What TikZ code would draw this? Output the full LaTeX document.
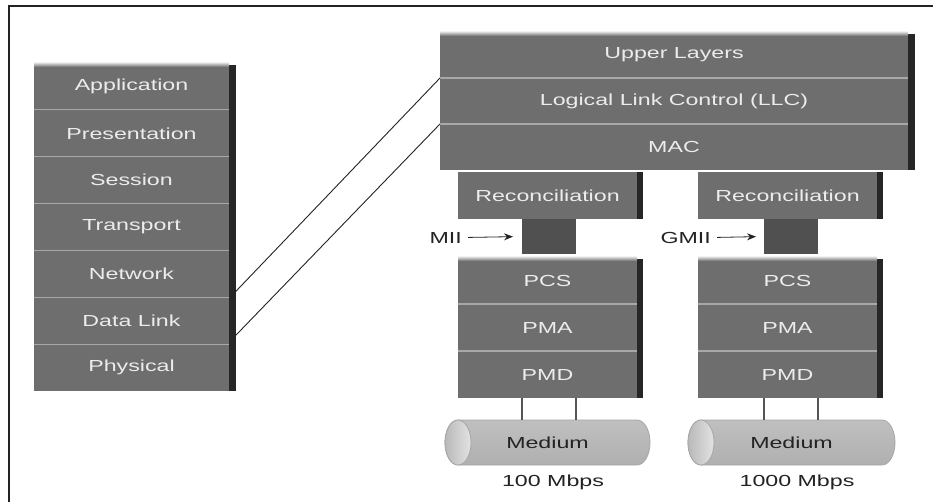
\documentclass[tikz,border=0pt]{standalone}
\usepackage{fontspec}
\setmainfont{Liberation Sans}[FakeStretch=1.45]
\usetikzlibrary{arrows.meta,calc}

\definecolor{boxgray}{RGB}{110,110,110}
\definecolor{sidegray}{RGB}{38,38,38}
\definecolor{sepgray}{RGB}{168,168,168}
\definecolor{labelgray}{RGB}{236,236,236}
\definecolor{linkgray}{RGB}{85,85,85}
\definecolor{ifgray}{RGB}{80,80,80}
\definecolor{inkgray}{RGB}{35,35,35}

\begin{document}
\begin{tikzpicture}[x=1pt,y=-1pt,
  txt/.style={font=\fontsize{16}{18}\selectfont},
  layer/.style={txt,fill=boxgray,text=labelgray,anchor=north west,
    inner sep=0pt,outer sep=0pt},
  osi/.style={layer,minimum width=195pt,minimum height=46.86pt},
  upper/.style={layer,minimum width=468pt,minimum height=46pt},
  sub/.style={layer,minimum width=179pt,minimum height=47pt},
  iface/.style={fill=ifgray,anchor=north west,inner sep=0pt,outer sep=0pt,
    minimum width=54pt,minimum height=35pt},
  sepline/.style={draw=sepgray,line width=1.2pt},
  side/.style={fill=sidegray},
  bevel/.style={top color=gray!30,bottom color=boxgray},
  mapline/.style={draw=inkgray,line width=0.9pt},
  tap/.style={draw=linkgray,line width=1.4pt},
  ifarrow/.style={draw=inkgray,line width=0.8pt,
    -{Stealth[length=9pt,width=7pt]}},
  darktext/.style={txt,text=inkgray,inner sep=2pt},
  medium/.style={txt,text=inkgray,inner sep=0pt,minimum width=205pt,minimum height=45pt},
  cylbody/.style={top color=gray!50,middle color=gray!6,bottom color=gray!62,draw=gray!70,line width=0.8pt},
  cylend/.style={left color=gray!55,right color=gray!22,draw=gray!70,line width=0.8pt}
]
\useasboundingbox (0,0) rectangle (933,502);
\fill[white] (0,0) rectangle (933,502);

% frame
\draw[inkgray,line width=2pt] (9,502) -- (9,6) -- (933,6);

% ---- OSI reference stack ----
\node[osi] (app) at (34,63.00)  {Application};
\node[osi] (pre) at (34,109.86) {Presentation};
\node[osi] (ses) at (34,156.72) {Session};
\node[osi] (tra) at (34,203.58) {Transport};
\node[osi] (net) at (34,250.44) {Network};
\node[osi] (dl)  at (34,297.30) {Data Link};
\node[osi] (phy) at (34,344.16) {Physical};
\fill[side] ($(app.north east)+(0,2)$) rectangle ($(phy.south east)+(7,0)$);
\shade[bevel] (app.north west) rectangle ($(app.north east)+(0,4)$);
\foreach \n in {app,pre,ses,tra,net,dl}
  \draw[sepline] (\n.south west) -- (\n.south east);

% ---- IEEE stack: shared upper part ----
\node[upper] (ul)  at (440,32)  {Upper Layers};
\node[upper] (llc) at (440,78)  {Logical Link Control (LLC)};
\node[upper] (mac) at (440,124) {MAC};
\fill[side] ($(ul.north east)+(0,2)$) rectangle ($(mac.south east)+(7,0)$);
\shade[bevel] (ul.north west) rectangle ($(ul.north east)+(0,4)$);
\foreach \n in {ul,llc}
  \draw[sepline] (\n.south west) -- (\n.south east);

% ---- 100 Mbps branch ----
\node[sub] (rec1) at (458,172) {Reconciliation};
\fill[side] ($(rec1.north east)+(0,0)$) rectangle ($(rec1.south east)+(6,0)$);
\node[iface] (mii) at (522,219) {};
\node[sub] (pcs1) at (458,257) {PCS};
\node[sub] (pma1) at (458,304) {PMA};
\node[sub] (pmd1) at (458,351) {PMD};
\fill[side] ($(pcs1.north east)+(0,2)$) rectangle ($(pmd1.south east)+(6,0)$);
\shade[bevel] (pcs1.north west) rectangle ($(pcs1.north east)+(0,4)$);
\foreach \n in {pcs1,pma1}
  \draw[sepline] (\n.south west) -- (\n.south east);

% ---- 1000 Mbps branch ----
\node[sub] (rec2) at (698,172) {Reconciliation};
\fill[side] ($(rec2.north east)+(0,0)$) rectangle ($(rec2.south east)+(6,0)$);
\node[iface] (gmii) at (764,219) {};
\node[sub] (pcs2) at (698,257) {PCS};
\node[sub] (pma2) at (698,304) {PMA};
\node[sub] (pmd2) at (698,351) {PMD};
\fill[side] ($(pcs2.north east)+(0,2)$) rectangle ($(pmd2.south east)+(6,0)$);
\shade[bevel] (pcs2.north west) rectangle ($(pcs2.north east)+(0,4)$);
\foreach \n in {pcs2,pma2}
  \draw[sepline] (\n.south west) -- (\n.south east);

% interface labels
\node[darktext,anchor=east] (miilab)  at (464,237.5) {MII};
\node[darktext,anchor=east] (gmiilab) at (713,237.5) {GMII};
\draw[ifarrow,shorten <=4pt,shorten >=9pt] (miilab.east) -- (mii.west);
\draw[ifarrow,shorten <=4pt,shorten >=8pt] (gmiilab.east) -- (gmii.west);

% ---- media ----
\shade[cylbody] (458,420) -- (637,420)
  arc[start angle=90,end angle=-90,x radius=13pt,y radius=22.5pt]
  -- (458,465)
  arc[start angle=270,end angle=90,x radius=13pt,y radius=22.5pt] -- cycle;
\shade[cylend] (458,442.5) ellipse[x radius=13pt,y radius=22.5pt];
\node[medium] (med1) at (547.5,442.5) {Medium};

\shade[cylbody] (701,420) -- (882,420)
  arc[start angle=90,end angle=-90,x radius=13pt,y radius=22.5pt]
  -- (701,465)
  arc[start angle=270,end angle=90,x radius=13pt,y radius=22.5pt] -- cycle;
\shade[cylend] (701,442.5) ellipse[x radius=13pt,y radius=22.5pt];
\node[medium] (med2) at (791.5,442.5) {Medium};

\draw[tap] (pmd1.south -| mii.west) -- (med1.north -| mii.west);
\draw[tap] (pmd1.south -| mii.east) -- (med1.north -| mii.east);
\draw[tap] (pmd2.south -| gmii.west) -- (med2.north -| gmii.west);
\draw[tap] (pmd2.south -| gmii.east) -- (med2.north -| gmii.east);

\node[darktext] (rate1) at (553,482) {100 Mbps};
\node[darktext] (rate2) at (797,482) {1000 Mbps};

% ---- mapping of the OSI data link onto the IEEE sublayers ----
\draw[mapline] ($(net.south east)+(5,-4)$) -- (ul.south west);
\draw[mapline] ($(dl.south east)+(5,-7)$) -- (llc.south west);
\end{tikzpicture}
\end{document}
